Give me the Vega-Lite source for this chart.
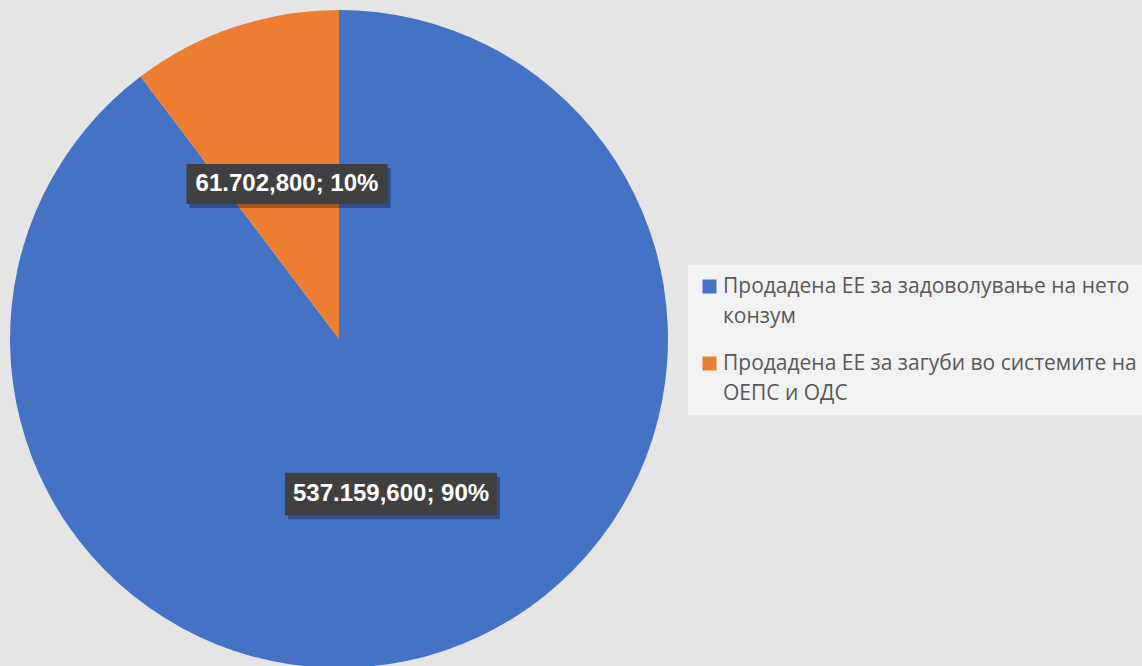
{
  "$schema": "https://vega.github.io/schema/vega-lite/v6.json",
  "width": 658,
  "height": 658,
  "padding": {"left": 10, "top": 10, "right": 0, "bottom": 0},
  "autosize": {"type": "pad"},
  "background": "#e5e5e5",
  "config": {
    "view": {"stroke": null},
    "locale": {"number": {"decimal": ",", "thousands": ".", "grouping": [3], "currency": ["", ""]}},
    "style": {"guide-label": {"lineHeight": 30}}
  },
  "data": {
    "values": [
      {"category": "Продадена ЕЕ за задоволување на нето конзум", "value": 537159.6},
      {"category": "Продадена ЕЕ за загуби во системите на ОЕПС и ОДС", "value": 61702.8}
    ]
  },
  "transform": [
    {"joinaggregate": [{"op": "sum", "field": "value", "as": "total"}]},
    {"window": [{"op": "sum", "field": "value", "as": "cum"}], "sort": [{"field": "value", "order": "descending"}], "frame": [null, 0]},
    {"calculate": "(datum.cum - datum.value / 2) / datum.total * 2 * PI", "as": "mid"},
    {"calculate": "0.497 * sin(datum.mid)", "as": "lx"},
    {"calculate": "0.497 * cos(datum.mid)", "as": "ly"},
    {"calculate": "format(datum.value, ',.3f') + '; ' + format(datum.value / datum.total, '.0%')", "as": "label"},
    {"calculate": "pow(length(datum.label) * 11 + 36, 2)", "as": "boxsize"}
  ],
  "layer": [
    {
      "mark": {"type": "arc", "outerRadius": 329, "strokeWidth": 0},
      "encoding": {
        "theta": {"field": "value", "type": "quantitative", "stack": true},
        "order": {"field": "value", "sort": "descending"},
        "color": {
          "field": "category",
          "type": "nominal",
          "scale": {
            "domain": ["Продадена ЕЕ за задоволување на нето конзум", "Продадена ЕЕ за загуби во системите на ОЕПС и ОДС"],
            "range": ["#4472C4", "#ED7D31"]
          },
          "legend": {
            "orient": "none",
            "legendX": 678,
            "legendY": 255,
            "title": null,
            "fillColor": "#f2f2f2",
            "padding": 11,
            "symbolType": "square",
            "symbolSize": 196,
            "symbolStrokeWidth": 0,
            "symbolOpacity": 1,
            "labelFont": "Open Sans",
            "labelFontSize": 21,
            "labelColor": "#595959",
            "labelLimit": 700,
            "labelOffset": 3,
            "rowPadding": 25,
            "labelExpr": "datum.label == 'Продадена ЕЕ за задоволување на нето конзум' ? ['Продадена ЕЕ за задоволување на нето', 'конзум'] : ['Продадена ЕЕ за загуби во системите на', 'ОЕПС и ОДС']"
          }
        }
      }
    },
    {
      "mark": {"type": "point", "shape": "M-1,-0.2H1V0.2H-1Z", "filled": true, "fill": "#000000", "fillOpacity": 0.3, "strokeWidth": 0, "xOffset": 3, "yOffset": 4},
      "encoding": {
        "x": {"field": "lx", "type": "quantitative", "scale": {"domain": [-1, 1], "nice": false, "zero": false}, "axis": null},
        "y": {"field": "ly", "type": "quantitative", "scale": {"domain": [-1, 1], "nice": false, "zero": false}, "axis": null},
        "size": {"field": "boxsize", "type": "quantitative", "scale": null, "legend": null}
      }
    },
    {
      "mark": {"type": "point", "shape": "M-1,-0.2H1V0.2H-1Z", "filled": true, "fill": "#404040", "fillOpacity": 1, "strokeWidth": 0},
      "encoding": {
        "x": {"field": "lx", "type": "quantitative", "scale": {"domain": [-1, 1], "nice": false, "zero": false}, "axis": null},
        "y": {"field": "ly", "type": "quantitative", "scale": {"domain": [-1, 1], "nice": false, "zero": false}, "axis": null},
        "size": {"field": "boxsize", "type": "quantitative", "scale": null, "legend": null}
      }
    },
    {
      "mark": {"type": "text", "font": "Liberation Sans", "fontWeight": "bold", "fontSize": 24, "fill": "#ffffff", "align": "center", "baseline": "middle"},
      "encoding": {
        "x": {"field": "lx", "type": "quantitative", "scale": {"domain": [-1, 1], "nice": false, "zero": false}, "axis": null},
        "y": {"field": "ly", "type": "quantitative", "scale": {"domain": [-1, 1], "nice": false, "zero": false}, "axis": null},
        "text": {"field": "label", "type": "nominal"}
      }
    }
  ]
}
